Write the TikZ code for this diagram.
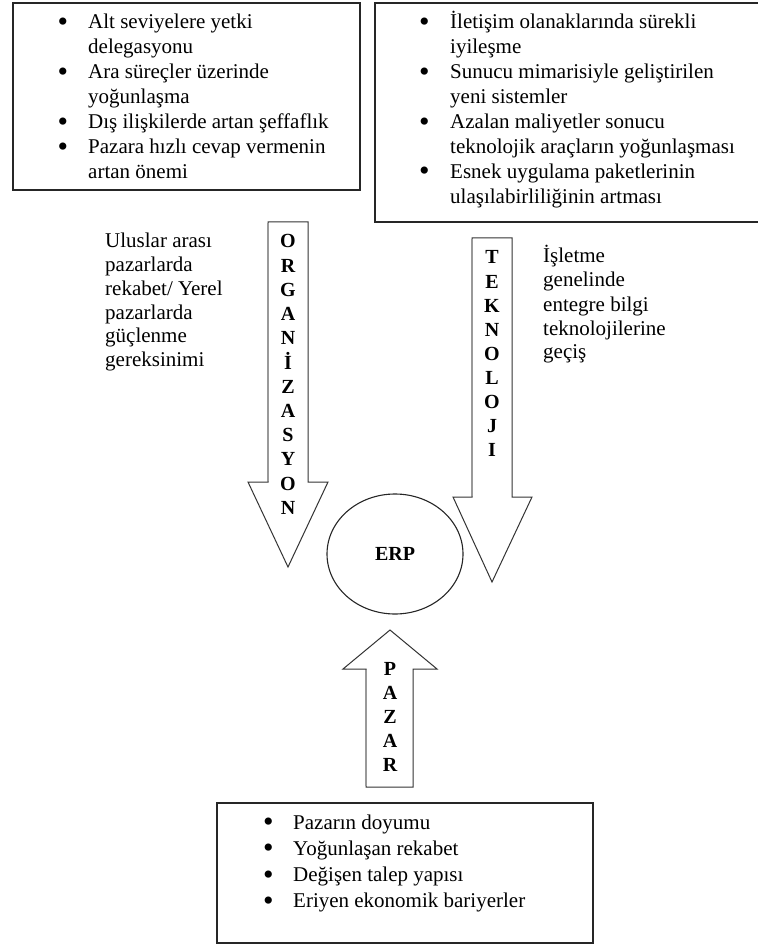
\documentclass[tikz,border=0pt]{standalone}
\usepackage{fontspec}
\setmainfont{Liberation Serif}
% a larger, heavier list bullet that keeps the line height unchanged
\newcommand{\bigdot}{\smash{\fontsize{30}{25}\selectfont\raisebox{-2.5pt}{\textbullet}}}
\begin{document}
\begin{tikzpicture}[x=1pt,y=-1pt,
  frame/.style={draw=black!85, line width=1.3pt},
  blockarrow/.style={draw=black!80, line width=1pt, fill=white, line join=miter},
  shade edge/.style={draw=black!40, line width=1.6pt},
  letter/.style={font=\fontsize{20}{24}\selectfont\bfseries, anchor=base, inner sep=0pt},
  note/.style={anchor=base west, inner sep=0pt},
]
\useasboundingbox (0,0) rectangle (757,949);

% ---- boxes ----
\draw[frame] (13,3) rectangle (360,190);
\draw[frame] (375,3) rectangle (770,222);
\draw[frame] (217,803) rectangle (593,943);

% ---- bullet lists ----
\node[note] (orglist) at (57.5,29) {\fontsize{21}{25}\selectfont
  \begin{tabular}[t]{@{}p{30.5pt}@{}l@{}}
  \bigdot & Alt seviyelere yetki\\
          & delegasyonu\\
  \bigdot & Ara süreçler üzerinde\\
          & yoğunlaşma\\
  \bigdot & Dış ilişkilerde artan şeffaflık\\
  \bigdot & Pazara hızlı cevap vermenin\\
          & artan önemi
  \end{tabular}};

\node[note] (teklist) at (419,29) {\fontsize{21}{24.9}\selectfont
  \begin{tabular}[t]{@{}p{31pt}@{}l@{}}
  \bigdot & İletişim olanaklarında sürekli\\
          & iyileşme\\
  \bigdot & Sunucu mimarisiyle geliştirilen\\
          & yeni sistemler\\
  \bigdot & Azalan maliyetler sonucu\\
          & teknolojik araçların yoğunlaşması\\
  \bigdot & Esnek uygulama paketlerinin\\
          & ulaşılabirliliğinin artması
  \end{tabular}};

\node[note] (pazlist) at (263,829) {\fontsize{21}{26.3}\selectfont
  \begin{tabular}[t]{@{}p{30pt}@{}l@{}}
  \bigdot & Pazarın doyumu\\
  \bigdot & Yoğunlaşan rekabet\\
  \bigdot & Değişen talep yapısı\\
  \bigdot & Eriyen ekonomik bariyerler
  \end{tabular}};

% ---- side notes ----
\node[note] (orgnote) at (105,248) {\fontsize{21}{23.7}\selectfont
  \begin{tabular}[t]{@{}l@{}}
  Uluslar arası\\ pazarlarda\\ rekabet/ Yerel\\ pazarlarda\\ güçlenme\\ gereksinimi
  \end{tabular}};

\node[note] (teknote) at (543,263) {\fontsize{21}{24}\selectfont
  \begin{tabular}[t]{@{}l@{}}
  İşletme\\ genelinde\\ entegre bilgi\\ teknolojilerine\\ geçiş
  \end{tabular}};

% ---- block arrows ----
\draw[blockarrow] (268,222) -- (308,222) -- (308,482) -- (328,482) -- (288,567)
  -- (248,482) -- (268,482) -- cycle;
\draw[shade edge] (268,223) -- (268,481);

\draw[blockarrow] (472,238) -- (512,238) -- (512,497) -- (532,497) -- (492,582)
  -- (453,497) -- (472,497) -- cycle;
\draw[shade edge] (472,239) -- (472,496);

\draw[blockarrow] (390,630) -- (437,669) -- (413,669) -- (413,787) -- (366,787)
  -- (366,669) -- (343,669) -- cycle;
\draw[shade edge] (366,670) -- (366,786);

% ---- arrow captions ----
\foreach \ch [count=\i from 0] in {O,R,G,A,N,İ,Z,A,S,Y,O,N}
  \node[letter] (org\i) at (288,{248+24.2*\i}) {\ch};
\foreach \ch [count=\i from 0] in {T,E,K,N,O,L,O,J,I}
  \node[letter] (tek\i) at (492,{264+24*\i}) {\ch};
\foreach \ch [count=\i from 0] in {P,A,Z,A,R}
  \node[letter] (paz\i) at (390,{675+24*\i}) {\ch};

% ---- centre ----
\draw[black!85, line width=1.1pt] (395,554) ellipse [x radius=68, y radius=60];
\node[font=\fontsize{20}{24}\selectfont\bfseries, inner sep=0pt] (erp) at (395,554) {ERP};
\end{tikzpicture}
\end{document}
